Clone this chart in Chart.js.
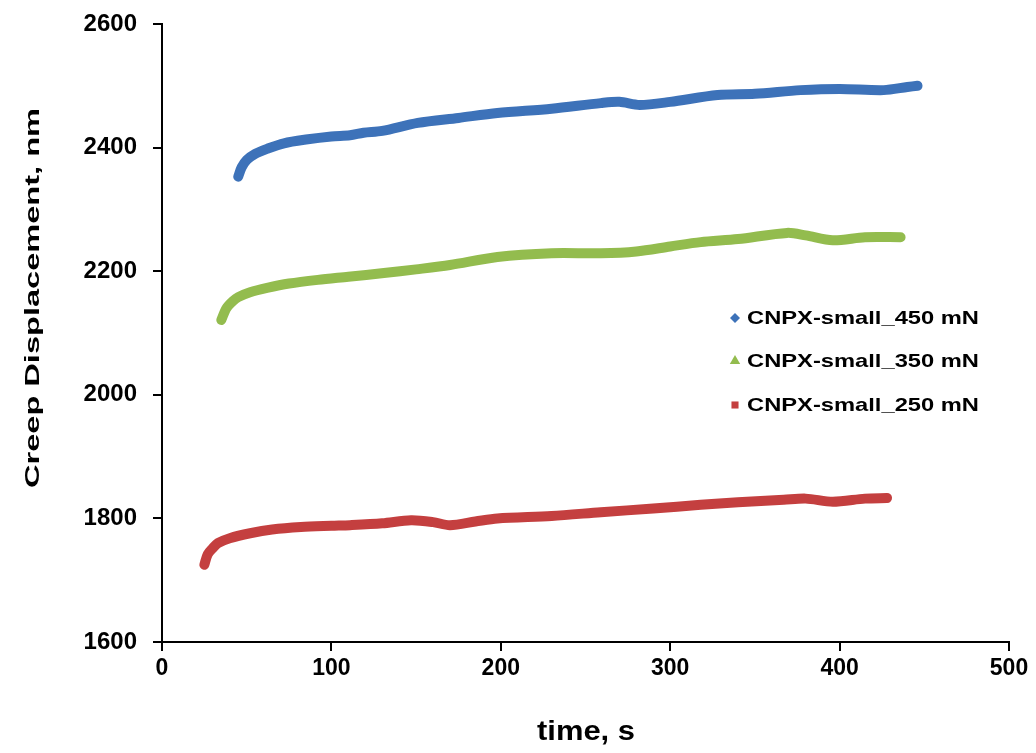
<!DOCTYPE html>
<html><head><meta charset="utf-8">
<script src="https://cdn.jsdelivr.net/npm/chart.js@4/dist/chart.umd.min.js"></script>
<style>html,body{margin:0;padding:0;background:#fff;} canvas{display:block;}</style>
</head><body>
<canvas id="c" width="1036" height="753"></canvas>
<script>
// ---- data ----
const seriesLabels = ['CNPX-small_450 mN', 'CNPX-small_350 mN', 'CNPX-small_250 mN'];

const time450 = [45, 47, 50, 55, 62, 72, 85, 100, 111, 119, 130, 151, 175, 198, 230, 259, 270, 282, 300, 328, 350, 377, 400, 426, 440, 446];
const disp450 = [2353, 2368, 2380, 2390, 2398, 2407, 2413, 2418, 2420, 2424, 2427, 2440, 2448, 2456, 2463, 2472, 2474, 2469, 2474, 2485, 2487, 2493, 2495, 2493, 2498, 2500];

const time350 = [35, 38, 42, 45, 52, 62, 75, 92, 110, 131, 150, 170, 198, 230, 259, 280, 300, 318, 340, 369, 380, 396, 415, 436];
const disp350 = [2121, 2140, 2152, 2158, 2166, 2173, 2180, 2186, 2191, 2197, 2203, 2210, 2223, 2229, 2229, 2232, 2240, 2247, 2252, 2262, 2258, 2250, 2255, 2255];

const time250 = [25, 27, 30, 33, 40, 52, 65, 82, 100, 111, 130, 147, 160, 170, 185, 198, 230, 259, 290, 318, 340, 367, 380, 396, 415, 428];
const disp250 = [1725, 1742, 1752, 1760, 1768, 1776, 1782, 1786, 1788, 1789, 1792, 1797, 1794, 1789, 1795, 1800, 1804, 1810, 1816, 1822, 1826, 1830, 1832, 1827, 1832, 1833];

const xTickValues = [0, 100, 200, 300, 400, 500];
const yTickValues = [1600, 1800, 2000, 2200, 2400, 2600];
const xTitle = 'time, s';
const yTitle = 'Creep Displacement, nm';

// ---- chart ----
const FONT = "'Liberation Sans', Arial, sans-serif";
const zip = (xs, ys) => xs.map((x, i) => ({x: x, y: ys[i]}));

function fitText(ctx, text, x, y, font, targetW, rot, align) {
  ctx.save();
  ctx.font = font;
  const w = ctx.measureText(text).width;
  ctx.translate(x, y);
  ctx.rotate(rot);
  ctx.scale(targetW / w, 1);
  ctx.textAlign = align || 'center';
  ctx.textBaseline = 'middle';
  ctx.fillStyle = '#000';
  ctx.fillText(text, 0, 0);
  ctx.restore();
}

const annotPlugin = {
  id: 'annot',
  afterDraw(chart) {
    const ctx = chart.ctx;
    // axis titles
    fitText(ctx, yTitle, 33, 298, 'bold 21px ' + FONT, 380, -Math.PI / 2);
    fitText(ctx, xTitle, 586, 733, 'bold 27px ' + FONT, 98, 0);
    // legend
    const rows = [318, 361, 405];
    chart.data.datasets.forEach((ds, i) => {
      const y = rows[i];
      ctx.save();
      ctx.fillStyle = ds.borderColor;
      ctx.strokeStyle = ds.borderColor;
      Chart.helpers.drawPoint(ctx, {pointStyle: ds.legendStyle, radius: ds.legendRadius, rotation: 0, borderWidth: 0}, 735, y);
      ctx.restore();
      fitText(ctx, ds.label, 747, y + 1, 'bold 19px ' + FONT, 232, 0, 'left');
    });
  }
};

const plain = v => String(v);

new Chart(document.getElementById('c'), {
  type: 'scatter',
  data: {
    datasets: [
      {label: seriesLabels[0], data: zip(time450, disp450), borderColor: '#3D72B9', backgroundColor: '#3D72B9', legendStyle: 'rectRot', legendRadius: 5},
      {label: seriesLabels[1], data: zip(time350, disp350), borderColor: '#93BC4E', backgroundColor: '#93BC4E', legendStyle: 'triangle', legendRadius: 6},
      {label: seriesLabels[2], data: zip(time250, disp250), borderColor: '#C43F3F', backgroundColor: '#C43F3F', legendStyle: 'rect', legendRadius: 5}
    ].map(d => Object.assign(d, {showLine: true, borderWidth: 10, pointRadius: 0, tension: 0.3, borderCapStyle: 'round', borderJoinStyle: 'round', fill: false}))
  },
  options: {
    responsive: false,
    animation: false,
    layout: {autoPadding: false, padding: {top: 24, right: 27, left: 0, bottom: 0}},
    plugins: {legend: {display: false}, tooltip: {enabled: false}},
    scales: {
      x: {
        type: 'linear', min: 0, max: 500,
        afterBuildTicks: s => { s.ticks = xTickValues.map(v => ({value: v})); },
        afterFit: s => { s.height = 111; s.paddingLeft = 0; s.paddingRight = 0; },
        border: {display: true, color: '#000', width: 2},
        grid: {display: true, drawOnChartArea: false, drawTicks: true, tickLength: 9, color: '#000', lineWidth: 2},
        ticks: {color: '#000', padding: 4, maxRotation: 0, callback: plain, font: {family: FONT, size: 23, weight: 'bold'}}
      },
      y: {
        type: 'linear', min: 1600, max: 2600,
        afterBuildTicks: s => { s.ticks = yTickValues.map(v => ({value: v})); },
        afterFit: s => { s.width = 162; s.paddingTop = 0; s.paddingBottom = 0; },
        border: {display: true, color: '#000', width: 2},
        grid: {display: true, drawOnChartArea: false, drawTicks: true, tickLength: 9, color: '#000', lineWidth: 2},
        ticks: {color: '#000', padding: 16, callback: plain, font: {family: FONT, size: 24, weight: 'bold'}}
      }
    }
  },
  plugins: [annotPlugin]
});
</script>
</body></html>
